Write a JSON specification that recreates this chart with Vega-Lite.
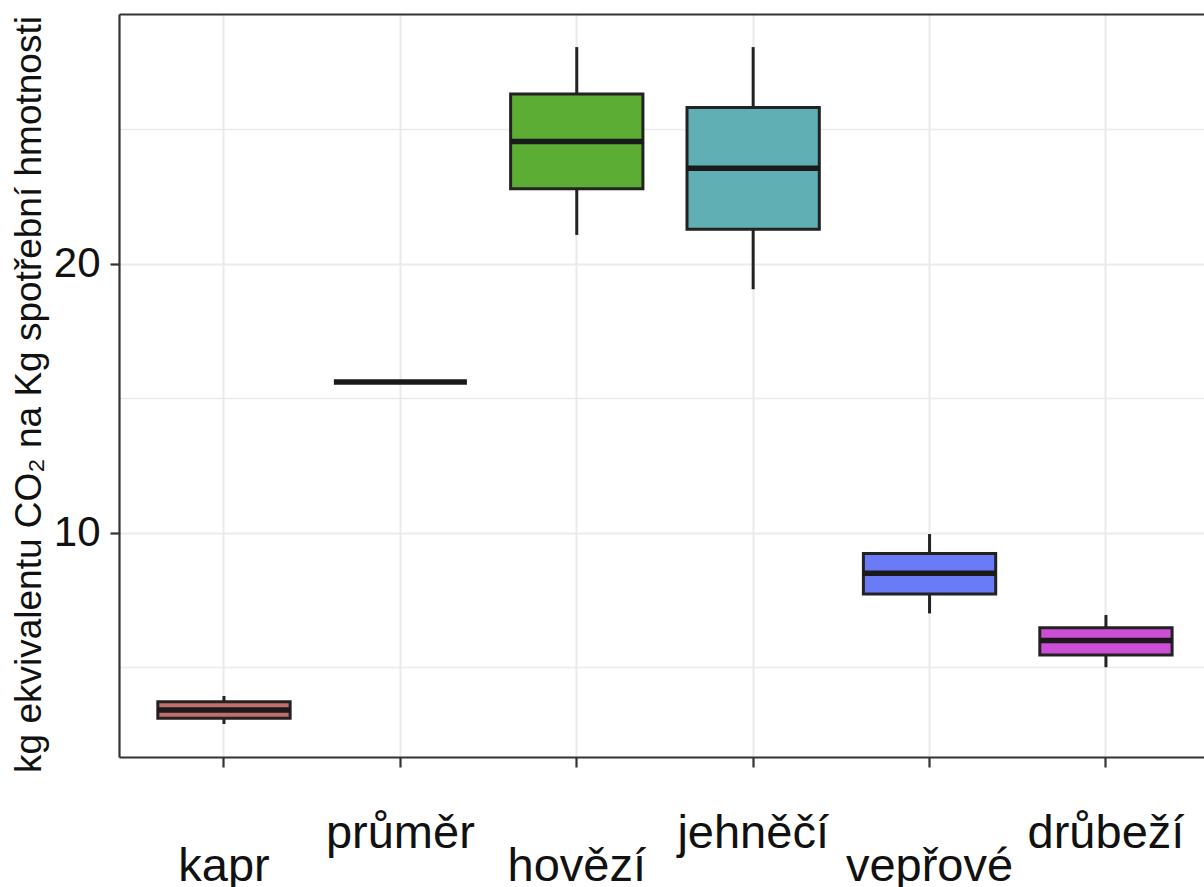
{
  "$schema": "https://vega.github.io/schema/vega-lite/v6.json",
  "width": 1085,
  "height": 743,
  "autosize": {"type": "none"},
  "padding": {"left": 119, "top": 14, "right": 0, "bottom": 130},
  "background": "white",
  "config": {"view": {"stroke": null}, "font": "Liberation Sans"},
  "data": {
    "values": [
      {"druh": "kapr", "lower": 2.90, "q1": 3.11, "median": 3.42, "q3": 3.73, "upper": 3.94},
      {"druh": "průměr", "lower": 15.61, "q1": 15.61, "median": 15.61, "q3": 15.61, "upper": 15.61},
      {"druh": "hovězí", "lower": 21.08, "q1": 22.79, "median": 24.55, "q3": 26.32, "upper": 28.06},
      {"druh": "jehněčí", "lower": 19.06, "q1": 21.29, "median": 23.56, "q3": 25.81, "upper": 28.06},
      {"druh": "vepřové", "lower": 7.01, "q1": 7.73, "median": 8.50, "q3": 9.24, "upper": 9.96},
      {"druh": "drůbeží", "lower": 5.01, "q1": 5.46, "median": 6.00, "q3": 6.48, "upper": 6.95}
    ]
  },
  "layer": [
    {
      "mark": {"type": "rule", "color": "#222222", "strokeWidth": 3},
      "encoding": {
        "x": {
          "field": "druh", "type": "nominal",
          "sort": ["kapr", "průměr", "hovězí", "jehněčí", "vepřové", "drůbeží"],
          "scale": {"paddingInner": 0, "paddingOuter": 0.0755, "align": 0.63},
          "axis": {
            "title": null, "bandPosition": 0.5, "labelAngle": 0,
            "labelFont": "Liberation Sans", "labelFontSize": 47, "labelColor": "#111111",
            "labelOverlap": false, "labelLimit": 0,
            "labelPadding": {"condition": {"test": "indexof(['kapr','hovězí','vepřové'], datum.value) >= 0", "value": 76}, "value": 43},
            "tickSize": 10, "tickColor": "#333333", "tickWidth": 2.2,
            "grid": true, "gridColor": "#EBEBEB", "gridWidth": 2.2,
            "domainColor": "#333333", "domainWidth": 2.2
          }
        },
        "y": {
          "field": "lower", "type": "quantitative",
          "title": "kg ekvivalentu CO₂ na Kg spotřební hmotnosti",
          "scale": {"domain": [1.673, 29.29], "nice": false, "zero": false},
          "axis": {
            "titleFont": "Liberation Sans", "titleFontSize": 37, "titleFontWeight": "normal", "titleColor": "#111111",
            "titlePadding": 5, "titleY": 380,
            "values": [5, 10, 15, 20, 25],
            "labelExpr": "datum.value % 10 == 0 ? datum.label : ''",
            "labelFont": "Liberation Sans", "labelFontSize": 42, "labelColor": "#111111", "labelPadding": 10,
            "tickSize": 9, "tickColor": "#333333", "tickWidth": 2.2,
            "tickOpacity": {"condition": {"test": "datum.value % 10 == 0", "value": 1}, "value": 0},
            "grid": true, "gridColor": "#EBEBEB",
            "gridWidth": {"condition": {"test": "datum.value % 10 == 0", "value": 2.2}, "value": 1.5},
            "domainColor": "#333333", "domainWidth": 2.2
          }
        },
        "y2": {"field": "upper"}
      }
    },
    {
      "mark": {"type": "bar", "width": {"band": 0.75}, "stroke": "#222222", "strokeWidth": 3},
      "encoding": {
        "x": {
          "field": "druh", "type": "nominal",
          "sort": ["kapr", "průměr", "hovězí", "jehněčí", "vepřové", "drůbeží"],
          "axis": {
            "orient": "top", "title": null, "labels": false, "ticks": false, "grid": false,
            "domain": true, "domainColor": "#333333", "domainWidth": 2.2
          }
        },
        "y": {"field": "q1", "type": "quantitative", "title": "kg ekvivalentu CO₂ na Kg spotřební hmotnosti"},
        "y2": {"field": "q3"},
        "fill": {
          "field": "druh", "type": "nominal", "legend": null,
          "scale": {
            "domain": ["kapr", "průměr", "hovězí", "jehněčí", "vepřové", "drůbeží"],
            "range": ["#C06E6E", "#999999", "#5BAE33", "#5FAFB5", "#6A7BF7", "#CC4DD6"]
          }
        }
      }
    },
    {
      "mark": {"type": "tick", "color": "#1a1a1a", "thickness": 5.5, "size": 133, "opacity": 1},
      "encoding": {
        "x": {
          "field": "druh", "type": "nominal",
          "sort": ["kapr", "průměr", "hovězí", "jehněčí", "vepřové", "drůbeží"],
          "axis": null
        },
        "y": {"field": "median", "type": "quantitative", "title": "kg ekvivalentu CO₂ na Kg spotřební hmotnosti"}
      }
    }
  ],
  "resolve": {"axis": {"x": "independent"}}
}
